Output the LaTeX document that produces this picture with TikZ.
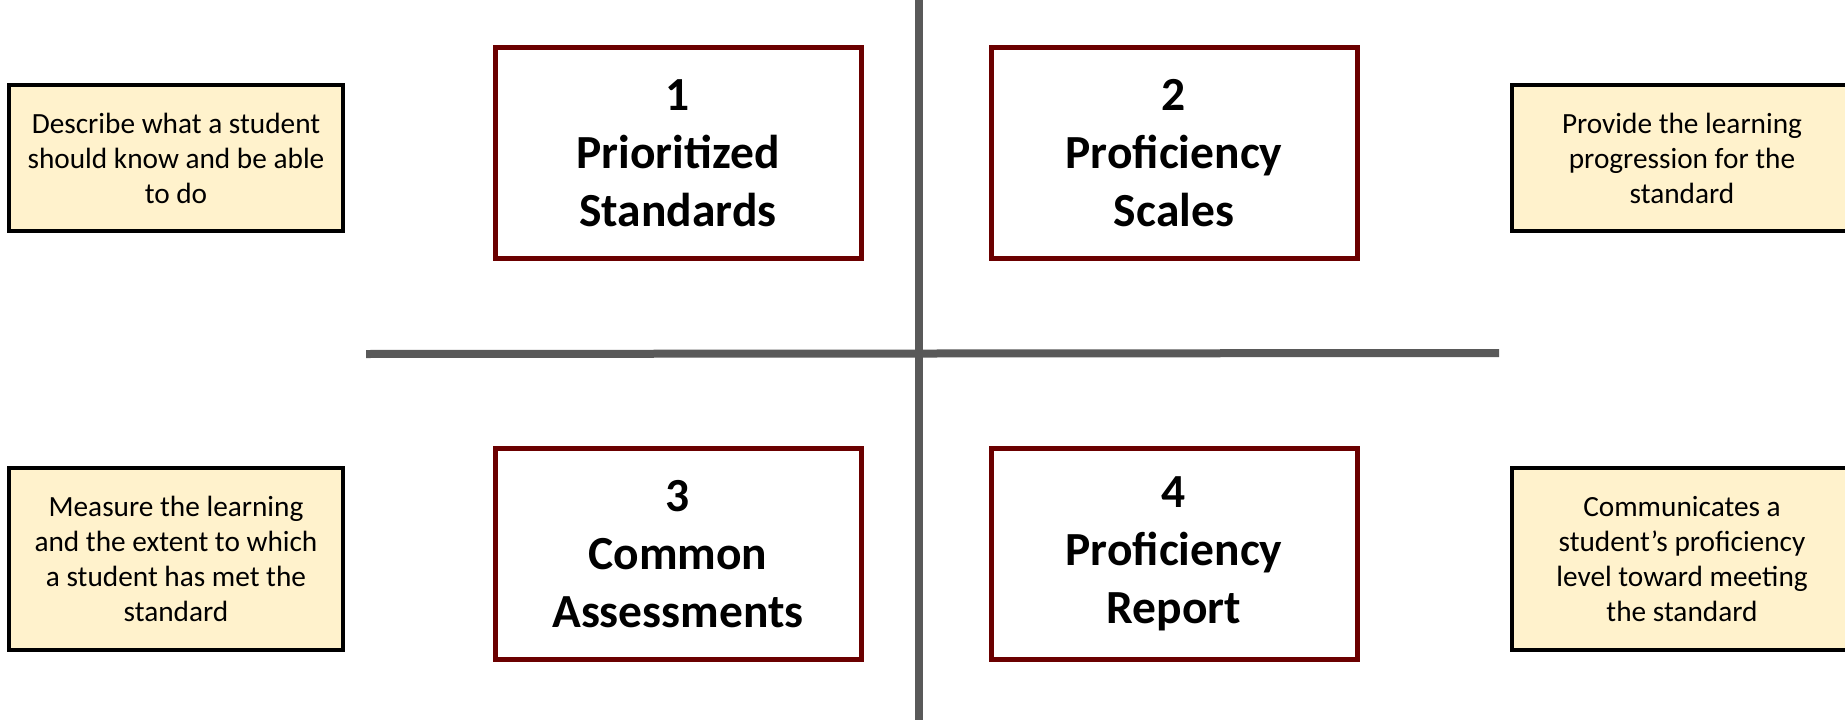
\documentclass[tikz,border=0pt]{standalone}
\usepackage{fontspec}
\setmainfont{Carlito}
\definecolor{maroon}{HTML}{6B0000}
\definecolor{noteyellow}{HTML}{FFF2CC}
\definecolor{axisgray}{HTML}{595959}
\begin{document}
\begin{tikzpicture}[x=1pt,y=-1pt,
  bigbox/.style={draw=maroon,line width=5pt,fill=white,minimum width=366pt,minimum height=211pt,
    align=center,font=\fontsize{47.5}{58}\selectfont\bfseries,inner sep=0pt},
  notebox/.style={draw=black,line width=3.5pt,fill=noteyellow,minimum width=332pt,minimum height=144pt,
    align=center,font=\fontsize{29.3}{35}\selectfont,inner sep=0pt},
  axisline/.style={draw=axisgray,line width=8pt}]
\useasboundingbox (0,0) rectangle (1845,720);
\coordinate (vtop) at (919,0);
\coordinate (vbot) at (919,720);
\coordinate (hleft) at (366,354);
\coordinate (hright) at (1499,353);
\draw[axisline] (hleft) -- (hright);
\draw[axisline] (vtop) -- (vbot);
\node[bigbox] (b1) at (678,153) {1\\Prioritized\\Standards};
\node[bigbox] (b2) at (1174,153) {2\\Proficiency\\Scales};
\node[bigbox] (b3) at (678,554) {3\\Common\\Assessments};
\node[bigbox] (b4) at (1174,554) {4\\Proficiency\\Report};
\node[notebox,minimum width=334pt,minimum height=146pt] (n1) at (176,158) {Describe what a student\\should know and be able\\to do};
\node[notebox,minimum width=334pt,minimum height=182pt] (n3) at (176,559) {Measure the learning\\and the extent to which\\a student has met the\\standard};
\node[notebox,minimum width=340pt,minimum height=146pt] (n2) at (1682,158) {Provide the learning\\progression for the\\standard};
\node[notebox,minimum width=340pt,minimum height=182pt] (n4) at (1682,559) {Communicates a\\student’s proficiency\\level toward meeting\\the standard};
\end{tikzpicture}
\end{document}
